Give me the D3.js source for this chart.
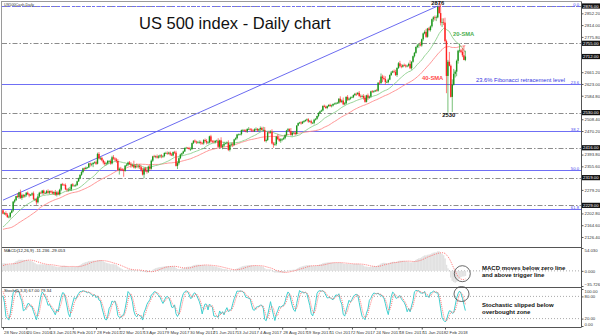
<!DOCTYPE html>
<html><head><meta charset="utf-8">
<script src="https://cdn.jsdelivr.net/npm/d3@7"></script>
<style>body{margin:0;background:#fff}svg{display:block;font-family:'Liberation Sans',Arial,sans-serif}</style>
</head><body><svg id="c" width="600" height="336"></svg>
<script>
// ---- data (daily closes, US 500 CFD) ----
const warmupCloses=[2161,2150,2159,2160,2153,2163,2136,2139,2132,2133,2127,2140,2144,2141,2141,2151,2143,2139,2133,2126,2126,2111,2097,2088,2085,2131,2139,2163,2167,2164,2164,2180,2177,2187,2182,2198,2203,2204,2213];
const closes=[
2202,2204,2199,2191,2192,2205,2212,2241,2246,2259,
2256,2271,2253,2262,2258,2262,2270,2265,2261,2264,
2268,2249,2249,2239,2258,2270,2269,2277,2269,2269,
2275,2270,2275,2272,2268,2272,2264,2271,2265,2280,
2298,2296,2295,2281,2279,2280,2281,2297,2293,2293,
2295,2307,2316,2328,2337,2349,2347,2351,2352,2365,
2362,2363,2367,2369,2364,2396,2381,2383,2375,2368,
2363,2365,2373,2373,2365,2385,2381,2378,2373,2344,
2348,2345,2344,2341,2358,2361,2368,2363,2359,2360,
2352,2357,2355,2357,2353,2344,2329,2349,2342,2338,
2355,2348,2374,2388,2387,2388,2384,2388,2391,2388,
2389,2399,2399,2397,2400,2394,2391,2402,2400,2357,
2366,2382,2394,2398,2404,2415,2416,2415,2412,2412,
2431,2439,2436,2433,2433,2434,2431,2430,2441,2438,
2433,2433,2453,2437,2436,2434,2438,2439,2419,2440,
2419,2423,2429,2430,2432,2409,2425,2427,2425,2443,
2447,2459,2459,2460,2473,2473,2472,2469,2477,2477,
2475,2472,2470,2476,2477,2472,2476,2480,2474,2474,
2438,2441,2466,2465,2468,2430,2426,2428,2452,2444,
2439,2443,2444,2447,2457,2472,2476,2470,2458,2465,
2465,2461,2488,2496,2498,2495,2500,2503,2506,2508,
2501,2502,2497,2497,2507,2510,2519,2529,2534,2537,
2552,2549,2545,2551,2555,2551,2553,2558,2559,2561,
2562,2575,2565,2569,2557,2560,2581,2572,2575,2579,
2580,2587,2591,2590,2594,2584,2582,2584,2578,2565,
2586,2579,2582,2599,2597,2599,2602,2601,2627,2626,
2647,2642,2639,2629,2629,2637,2652,2660,2664,2662,
2652,2675,2690,2681,2679,2684,2683,2680,2682,2688,
2674,2695,2713,2724,2743,2748,2751,2748,2768,2787,
2792,2776,2803,2798,2810,2833,2839,2837,2839,2873,
2853,2822,2824,2822,2762,2649,2695,2682,2581,2620,
2656,2663,2698,2731,2732,2727,2716,2701,2712];
const wickUp=[
2,3,6,5,4,2,3,2,4,1, 8,2,9,5,4,3,2,4,3,2, 3,6,4,5,8,3,4,2,3,4, 4,6,2,3,5,3,7,4,6,3,
2,4,3,5,4,6,8,2,4,3, 4,2,3,2,3,2,3,4,2,2, 3,4,2,3,5,4,6,3,4,3, 5,4,3,3,5,5,7,4,5,6,
4,6,5,3,2,4,3,5,6,4, 14,5,8,4,6,5,6,3,5,9, 3,7,4,2,5,3,6,4,3,4, 3,2,4,5,3,4,5,2,4,6,
6,3,3,2,3,2,3,2,4,5, 2,1,4,3,5,6,5,4,3,5, 6,4,2,5,4,5,3,3,8,2, 10,5,6,2,4,8,5,6,7,2,
3,2,3,2,2,4,3,4,2,6, 3,4,4,3,5,3,2,5,4,10, 9,5,2,4,4,8,5,6,2,8, 5,4,3,4,3,2,4,3,10,5,
4,6,1,2,2,4,3,2,2,3, 4,4,5,3,3,2,1,2,2,3, 1,4,4,2,2,4,3,2,3,3, 3,2,8,4,10,4,2,6,3,3,
3,2,3,4,3,6,5,4,6,8, 2,6,3,2,4,3,2,5,2,8, 10,6,8,9,5,4,2,5,3,6, 7,2,4,8,6,3,5,4,3,4,
12,2,2,3,2,5,4,9,2,3, 5,10,2,5,3,2,4,6,6,3, 20,30,12,12,16,5,6,32,4,18, 16,5,4,3,22,5,13,31,19];
const wickDn=[
2,4,4,3,4,5,2,4,5,3, 3,6,3,6,5,4,5,3,6,2, 4,3,6,8,4,4,3,5,6,3, 3,4,5,4,3,5,4,6,3,4,
5,4,3,2,6,5,3,5,4,3, 4,3,2,2,3,4,6,2,3,2, 7,6,10,3,4,2,3,5,3,6, 5,4,3,5,4,3,4,5,6,3,
15,5,4,19,3,3,4,3,8,6, 3,4,5,6,6,6,3,12,5,6, 4,6,3,4,3,5,3,3,5,6, 5,4,3,4,3,4,2,3,4,2,
10,5,3,4,3,2,2,3,4,6, 3,3,4,5,3,4,5,4,4,5, 6,5,3,4,5,3,4,2,3,4, 4,8,4,2,3,4,5,4,6,2,
3,4,3,3,4,3,4,3,5,3, 4,5,3,3,4,4,3,6,3,4, 3,5,3,4,3,3,10,4,5,3, 4,7,6,3,4,4,3,5,3,5,
3,5,3,2,3,4,2,3,3,4, 4,3,5,4,5,3,3,4,3,2, 3,2,3,4,3,2,4,3,2,4, 3,4,3,4,3,3,3,4,3,3,
2,3,3,6,3,4,4,3,6,3, 2,8,4,3,3,3,2,3,3,5, 3,13,4,8,3,4,2,3,2,4, 3,6,3,4,5,3,3,4,3,3,
3,5,3,4,3,4,8,3,4,5, 3,4,3,4,5,4,8,8,10,3, 2,9,14,8,5,56,119,2,2,49, 2,12,15,9,6,4,6,1,4];
const dateLabels=["28 Nov 2016","20 Dec 2016","13 Jan 2017","6 Feb 2017","28 Feb 2017","22 Mar 2017","13 Apr 2017","9 May 2017","30 May 2017","21 Jun 2017","13 Jul 2017","4 Aug 2017","28 Aug 2017","19 Sep 2017","11 Oct 2017","2 Nov 2017","24 Nov 2017","18 Dec 2017","11 Jan 2018","2 Feb 2018"];
const dateLabelBars=[0,16,32,48,64,80,96,112,128,144,160,176,192,208,224,240,256,272,288,304];
const priceTicks=[2890.40,2852.20,2814.00,2775.80,2737.60,2699.40,2661.20,2623.00,2584.80,2546.60,2508.40,2470.20,2432.00,2393.80,2355.60,2317.40,2279.20,2241.00,2202.80,2164.60,2126.40];
const fibNames=["0.0","23.6","38.2","50.0","61.8"];
const fibPrices=[2876,2624.4,2468.8,2343,2217.2];
const srLevels=[2876,2755,2530,2416,2319,2229];
const trendBars=[0,299];
const trendPrices=[2246,2876];
const macdTicks=[54.030,0,-35.726];
const stochTicks=[100,80,20,0];
const stochLevels=[80,20];

// ---- layout ----
const svg=d3.select("#c");
const L=2,R=581,T=2,P1=247,P2=287,B=327;
const x=d3.scaleLinear().domain([0,304]).range([3,445]);
const y=d3.scaleLinear().domain([2876,2217.2]).range([6,209]);
const ym=d3.scaleLinear().domain([-35.726,54.03]).range([286,248]);
const ys=d3.scaleLinear().domain([0,100]).range([326,289]);

svg.append("rect").attr("width",600).attr("height",336).attr("fill","#fff");
const defs=svg.append("defs");
defs.append("clipPath").attr("id","cp1").append("rect").attr("x",L).attr("y",T).attr("width",R-L).attr("height",P1-T);
defs.append("clipPath").attr("id","cp2").append("rect").attr("x",L).attr("y",P1).attr("width",R-L).attr("height",P2-P1);
defs.append("clipPath").attr("id","cp3").append("rect").attr("x",L).attr("y",P2).attr("width",R-L).attr("height",B-P2);

// ---- indicators ----
const W=warmupCloses.length;
const all=warmupCloses.concat(closes);
const bars=closes.map((c,i)=>{const o=all[W+i-1];return {i,o,c,h:Math.max(o,c)+wickUp[i],l:Math.min(o,c)-wickDn[i]};});
const allH=warmupCloses.concat(bars.map(b=>b.h));
const allL=warmupCloses.concat(bars.map(b=>b.l));
function sma(arr,n){return arr.map((v,k)=>k<n-1||v==null?null:d3.mean(arr.slice(k-n+1,k+1)));}
function ema(arr,n){const a=2/(n+1);let e=arr[0];return arr.map(v=>(e=e+a*(v-e)));}
const sma20=sma(all,20),sma40=sma(all,40);
const e12=ema(all,12),e26=ema(all,26);
const macd=all.map((v,k)=>e12[k]-e26[k]);
const macdSig=sma(macd,9);
const num=all.map((c,k)=>k<4?null:c-d3.min(allL.slice(k-4,k+1)));
const den=all.map((c,k)=>k<4?null:d3.max(allH.slice(k-4,k+1))-d3.min(allL.slice(k-4,k+1)));
const stMain=all.map((c,k)=>k<6?null:100*d3.sum(num.slice(k-2,k+1))/Math.max(1e-9,d3.sum(den.slice(k-2,k+1))));
const stSig=sma(stMain,3);
const vis=arr=>closes.map((c,i)=>({i,v:arr[W+i]}));

// ---- price panel ----
const g1=svg.append("g").attr("clip-path","url(#cp1)");
srLevels.forEach(p=>g1.append("line").attr("x1",L).attr("x2",R).attr("y1",Math.round(y(p))+0.5).attr("y2",Math.round(y(p))+0.5)
  .attr("stroke","#8c8c8c").attr("stroke-dasharray","5,2,1.5,2"));
fibPrices.forEach((p,k)=>{
  const yy=Math.round(y(p))+0.5;
  g1.append("line").attr("x1",L).attr("x2",R).attr("y1",yy).attr("y2",yy).attr("stroke","#6f6ff5")
    .attr("stroke-dasharray",k===0?"3,2":null);
  g1.append("text").attr("x",R-2).attr("y",yy-1).attr("text-anchor","end").attr("font-size",4.2).attr("fill","#4a4aee").text(fibNames[k]);
});
g1.append("line").attr("x1",x(trendBars[0])).attr("y1",y(trendPrices[0])).attr("x2",x(trendBars[1])).attr("y2",y(trendPrices[1]))
  .attr("stroke","#5a5aee").attr("stroke-width",0.9);
const line=d3.line().defined(d=>d.v!=null).x(d=>x(d.i)).y(d=>y(d.v));
g1.append("path").attr("d",line(vis(sma40))).attr("fill","none").attr("stroke","#ff8a8a").attr("stroke-width",0.9);
g1.append("path").attr("d",line(vis(sma20))).attr("fill","none").attr("stroke","#8ccf8c").attr("stroke-width",0.9);
const cg=g1.append("g");
bars.forEach(b=>{
  const col=b.c>=b.o?"#1b961b":"#ff2020";
  cg.append("line").attr("x1",x(b.i)).attr("x2",x(b.i)).attr("y1",y(b.h)).attr("y2",y(b.l)).attr("stroke",col).attr("stroke-width",0.6);
  const y0=y(Math.max(b.o,b.c)),y1=y(Math.min(b.o,b.c));
  cg.append("rect").attr("x",x(b.i)-0.7).attr("width",1.4).attr("y",y0).attr("height",Math.max(0.6,y1-y0)).attr("fill",col);
});

// ---- MACD panel ----
const g2=svg.append("g").attr("clip-path","url(#cp2)");
g2.append("line").attr("x1",L).attr("x2",R).attr("y1",ym(0)).attr("y2",ym(0)).attr("stroke","#aaa").attr("stroke-dasharray","1,2");
vis(macd).forEach(d=>{const a=ym(Math.max(0,d.v)),b=ym(Math.min(0,d.v));
  g2.append("rect").attr("x",x(d.i)-0.8).attr("width",1.6).attr("y",a).attr("height",b-a).attr("fill","#e2e2e2");});
g2.append("path").attr("d",d3.line().defined(d=>d.v!=null).x(d=>x(d.i)).y(d=>ym(d.v))(vis(macdSig)))
  .attr("fill","none").attr("stroke","#ff6b6b").attr("stroke-width",0.9).attr("stroke-dasharray","1,1");
svg.append("text").attr("x",4).attr("y",252).attr("font-size",4.3).attr("fill","#222").text("MACD(12,26,9) -11.236 -29.053");

// ---- Stochastic panel ----
const g3=svg.append("g").attr("clip-path","url(#cp3)");
stochLevels.forEach(v=>g3.append("line").attr("x1",L).attr("x2",R).attr("y1",ys(v)).attr("y2",ys(v)).attr("stroke","#aaa").attr("stroke-dasharray","1,2"));
const ls=d3.line().defined(d=>d.v!=null).x(d=>x(d.i)).y(d=>ys(d.v));
g3.append("path").attr("d",ls(vis(stMain))).attr("fill","none").attr("stroke","#3fcfcf").attr("stroke-width",1);
g3.append("path").attr("d",ls(vis(stSig))).attr("fill","none").attr("stroke","#ff6b6b").attr("stroke-width",0.9).attr("stroke-dasharray","1,1");
svg.append("text").attr("x",4).attr("y",292).attr("font-size",4.3).attr("fill","#222").text("Stoch(5,3,3) 67.00 79.34");

// ---- frames ----
svg.append("rect").attr("x",L-0.5).attr("y",T-0.5).attr("width",R-L+1).attr("height",B-T+1).attr("fill","none").attr("stroke","#9a9a9a");
[P1,P2].forEach(v=>svg.append("line").attr("x1",L).attr("x2",R).attr("y1",v+0.5).attr("y2",v+0.5).attr("stroke","#555"));
svg.append("line").attr("x1",R+0.5).attr("x2",R+0.5).attr("y1",T).attr("y2",B).attr("stroke","#555");
svg.append("line").attr("x1",L).attr("x2",R).attr("y1",B+0.5).attr("y2",B+0.5).attr("stroke","#555");
svg.append("text").attr("x",4).attr("y",5.6).attr("font-size",3.8).attr("fill","#333").text("US500Cash,Daily");

// ---- axes ----
const highlighted=srLevels.concat([closes[closes.length-1]]);
const shownTicks=priceTicks.filter(t=>highlighted.every(h=>Math.abs(y(t)-y(h))>5.5));
function styleAxis(g){g.select(".domain").remove();g.selectAll("line").attr("stroke","#555");g.selectAll("text").attr("font-size",4.3).attr("fill","#333").attr("font-family","'Liberation Sans',Arial,sans-serif");}
svg.append("g").attr("transform",`translate(${R+0.5},0)`).call(d3.axisRight(y).tickValues(shownTicks).tickFormat(d3.format(".2f")).tickSize(2).tickPadding(1)).call(styleAxis);
const ma=svg.append("g").attr("transform",`translate(${R+0.5},0)`).call(d3.axisRight(ym).tickValues(macdTicks).tickFormat(d3.format(".3f")).tickSize(2).tickPadding(1)).call(styleAxis);
ma.selectAll(".tick").filter(d=>d<0).select("text").attr("dy","-0.2em");
ma.selectAll(".tick").filter(d=>d>50).select("text").attr("dy","0.9em");
const sa=svg.append("g").attr("transform",`translate(${R+0.5},0)`).call(d3.axisRight(ys).tickValues(stochTicks).tickFormat(d3.format(".2f")).tickSize(2).tickPadding(1)).call(styleAxis);
sa.selectAll(".tick").filter(d=>d===100).select("text").attr("dy","0.9em");
sa.selectAll(".tick").filter(d=>d===0).select("text").attr("dy","-0.1em");
const xa=svg.append("g").attr("transform",`translate(0,${B+0.5})`).call(d3.axisBottom(x).tickValues(dateLabelBars).tickFormat((d,k)=>dateLabels[k]).tickSize(2).tickPadding(1)).call(styleAxis);
xa.selectAll("text").attr("text-anchor","start").attr("dx",0.5);

// highlighted level labels on the price axis
highlighted.forEach(p=>{
  const yy=y(p);
  svg.append("rect").attr("x",R+1).attr("y",yy-2.6).attr("width",18).attr("height",5.2).attr("fill","#111");
  svg.append("text").attr("x",R+2).attr("y",yy+1.5).attr("font-size",4.3).attr("fill","#fff").text(d3.format(".2f")(p));
});

// ---- annotations ----
svg.append("text").attr("x",139).attr("y",28.5).attr("font-size",16.5).attr("fill","#111").text("US 500 index - Daily chart");
svg.append("text").attr("x",x(299)).attr("y",4.8).attr("text-anchor","middle").attr("font-size",5.8).attr("font-weight","bold").attr("fill","#111").text("2876");
svg.append("text").attr("x",x(308)-2).attr("y",116.8).attr("text-anchor","middle").attr("font-size",5.8).attr("font-weight","bold").attr("fill","#111").text("2530");
svg.append("text").attr("x",453).attr("y",36).attr("font-size",5.8).attr("font-weight","bold").attr("fill","#4caf50").text("20-SMA");
svg.append("text").attr("x",422).attr("y",79.5).attr("font-size",5.8).attr("font-weight","bold").attr("fill","#ff4a4a").text("40-SMA");
svg.append("text").attr("x",476).attr("y",82).attr("font-size",5.8).attr("fill","#3535e0").text("23.6% Fibonacci retracement level");
const ann=[["MACD moves below zero line",270],["and above trigger line",277],["Stochastic slipped below",306.5],["overbought zone",313.5]];
ann.forEach(a=>svg.append("text").attr("x",482).attr("y",a[1]).attr("font-size",6).attr("font-weight","bold").attr("fill","#111").text(a[0]));
svg.append("circle").attr("cx",462.3).attr("cy",273.7).attr("r",8).attr("fill","none").attr("stroke","#444").attr("stroke-width",0.8);
svg.append("circle").attr("cx",461.5).attr("cy",294).attr("r",7.5).attr("fill","none").attr("stroke","#444").attr("stroke-width",0.8);
</script></body></html>
